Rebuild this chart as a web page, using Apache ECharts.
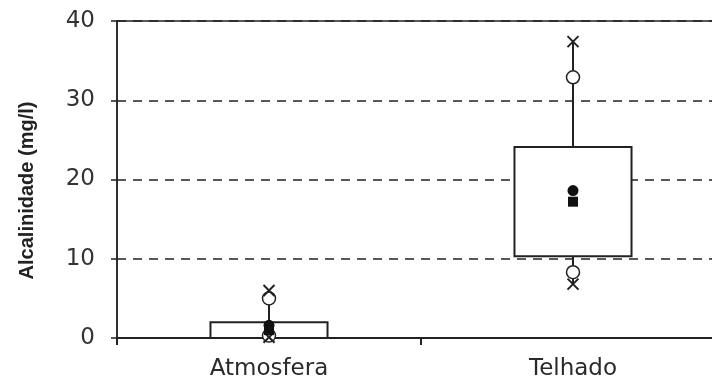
<!DOCTYPE html>
<html>
<head>
<meta charset="utf-8">
<script src="https://cdn.jsdelivr.net/npm/echarts@6/dist/echarts.min.js"></script>
<style>
html,body{margin:0;padding:0;background:#fff;}
#chart{width:712px;height:379px;}
</style>
</head>
<body>
<div id="chart"></div>
<script>
// ---- data ----
const categories = ['Atmosfera', 'Telhado'];
const minVals    = [0.1, 6.8];    // X markers (low)
const maxVals    = [6.0, 37.4];   // X markers (high)
const pLow       = [0.3, 8.3];    // circles (low)
const pHigh      = [5.0, 32.9];   // circles (high)
const q1Vals     = [0.0, 10.3];   // box bottom
const q3Vals     = [2.0, 24.1];   // box top
const meanVals   = [1.6, 18.6];   // black dot
const medianVals = [1.0, 17.2];   // black square
const yTicks     = [0, 10, 20, 30, 40];

const boxData = categories.map((c, i) => [i, minVals[i], q1Vals[i], q3Vals[i], maxVals[i]]);
const pts = arr => arr.map((v, i) => [i, v]);

const crossPath = 'path://M0,0L10,10M10,0L0,10';

const chart = echarts.init(document.getElementById('chart'));
chart.setOption({
  animation: false,
  backgroundColor: '#fff',
  grid: {left: 117, right: -13, top: 21, bottom: 41, outerBoundsMode: 'none', containLabel: false,
         show: true, borderColor: '#222', borderWidth: 1.5, backgroundColor: 'transparent'},
  xAxis: {
    type: 'category',
    data: categories,
    axisLine: {lineStyle: {color: '#222', width: 2}},
    axisTick: {show: true, length: 7, lineStyle: {color: '#222', width: 2}},
    axisLabel: {fontFamily: 'DejaVu Sans', fontSize: 23, color: '#2a2a2a', margin: 20},
    splitLine: {show: false}
  },
  yAxis: {
    type: 'value',
    min: yTicks[0], max: yTicks[yTicks.length - 1], interval: 10,
    name: 'Alcalinidade (mg/l)',
    nameLocation: 'middle',
    nameGap: 80,
    nameTextStyle: {fontFamily: 'Liberation Sans', fontWeight: 'bold', fontSize: 20, color: '#222', padding: [0, 22, 0, 0]},
    axisLine: {show: true, lineStyle: {color: '#222', width: 1.5}},
    axisTick: {show: true, length: 6, lineStyle: {color: '#222', width: 1.5}},
    axisLabel: {fontFamily: 'DejaVu Sans', fontSize: 23, color: '#333', margin: 22},
    splitLine: {show: true, lineStyle: {color: '#222', type: [9, 7], width: 1.5}}
  },
  series: [
    {
      type: 'custom',
      data: boxData,
      z: 2,
      renderItem: function (params, api) {
        const x = api.value(0);
        const pMin = api.coord([x, api.value(1)]);
        const pQ1 = api.coord([x, api.value(2)]);
        const pQ3 = api.coord([x, api.value(3)]);
        const pMax = api.coord([x, api.value(4)]);
        const band = api.size([1, 0])[0];
        const w = band * 0.385;
        return {
          type: 'group',
          children: [
            {type: 'line', shape: {x1: pMin[0], y1: pMin[1], x2: pMax[0], y2: pMax[1]},
             style: {stroke: '#222', lineWidth: 2}},
            {type: 'rect', shape: {x: pQ3[0] - w / 2, y: pQ3[1], width: w, height: pQ1[1] - pQ3[1]},
             style: {fill: '#fff', stroke: '#222', lineWidth: 2}}
          ]
        };
      }
    },
    {type: 'scatter', data: pts(pHigh), symbol: 'circle', symbolSize: 13, z: 3,
     itemStyle: {color: '#fff', borderColor: '#222', borderWidth: 1.5, opacity: 1}},
    {type: 'scatter', data: pts(pLow), symbol: 'circle', symbolSize: 13, z: 3,
     itemStyle: {color: '#fff', borderColor: '#222', borderWidth: 1.5, opacity: 1}},
    {type: 'scatter', data: pts(maxVals), symbol: crossPath, symbolSize: 11, z: 4,
     itemStyle: {color: 'none', borderColor: '#222', borderWidth: 2, opacity: 1}},
    {type: 'scatter', data: pts(minVals), symbol: crossPath, symbolSize: 11, z: 4,
     itemStyle: {color: 'none', borderColor: '#222', borderWidth: 2, opacity: 1}},
    {type: 'scatter', data: pts(meanVals), symbol: 'circle', symbolSize: 11, z: 5,
     itemStyle: {color: '#111', opacity: 1}},
    {type: 'scatter', data: pts(medianVals), symbol: 'rect', symbolSize: 10, z: 5,
     itemStyle: {color: '#111', opacity: 1}}
  ]
});
</script>
</body>
</html>
